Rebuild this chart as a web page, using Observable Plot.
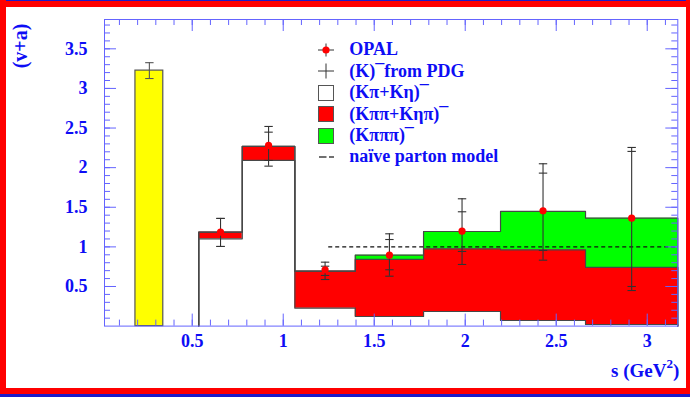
<!DOCTYPE html>
<html>
<head>
<meta charset="utf-8">
<script src="https://cdn.jsdelivr.net/npm/d3@7"></script>
<script src="https://cdn.jsdelivr.net/npm/@observablehq/plot@0.6"></script>
<style>
  html, body { margin: 0; padding: 0; background: #fff; }
  #wrap {
    position: relative; width: 690px; height: 397px; overflow: hidden; background: #fff;
    font-family: "Liberation Serif", "Times New Roman", serif; font-weight: bold; color: #0d0df5;
  }
  #wrap > svg { position: absolute; left: 0; top: 0; }
  .stripe { position: absolute; z-index: 5; }
  #ylabel {
    position: absolute; left: 20px; top: 46px; font-size: 20px; line-height: 20px; white-space: nowrap;
    transform: translate(-50%, -50%) rotate(-90deg);
  }
  #xlabel { position: absolute; left: 611px; top: 361px; font-size: 19px; line-height: 19px; white-space: nowrap; }
  #xlabel span.sup { font-size: 13px; position: relative; top: -9px; }
  #legend { position: absolute; left: 318px; top: 39.3px; font-size: 18px; }
  #legend .row { display: flex; align-items: center; height: 21.45px; line-height: 21.45px; white-space: nowrap; }
  #legend svg { width: 16px; height: 16px; flex: none; margin-right: 15.3px; overflow: visible; }
</style>
</head>
<body>
<div id="wrap"></div>
<script>
// Single K bin (PDG)
const kBinEdges = [0.188, 0.341];
const kValue = 3.225;
const kErr = 0.10;

// Bin edges in s for the hadronic spectral function
const binEdges = [0.536, 0.775, 1.064, 1.396, 1.771, 2.194, 2.661, 3.168];

// Stacked channel contributions per bin
const kpiKeta     = [1.102, 2.091, 0.226, 0.121, 0.184, 0.071, 0.020];
const kpipiKetapi = [0.084, 0.177, 0.467, 0.720, 0.792, 0.892, 0.720];
const kpipipi     = [0.000, 0.000, 0.000, 0.054, 0.218, 0.484, 0.622];

// OPAL measurement with two error levels
const opalValue    = [1.186, 2.280, 0.711, 0.895, 1.198, 1.456, 1.362];
const opalErrUp    = [0.173, 0.240, 0.096, 0.270, 0.409, 0.593, 0.893];
const opalErrDown  = [0.181, 0.261, 0.123, 0.265, 0.420, 0.624, 0.913];
const opalStatUp   = [0.173, 0.168, 0.045, 0.198, 0.245, 0.475, 0.843];
const opalStatDown = [0.181, 0.189, 0.072, 0.184, 0.256, 0.501, 0.862];

// Naive parton model level
const partonLevel = 1;
const partonFrom = 1.25;

// Axes
const xDomain = [0.018, 3.168];
const yDomain = [0, 3.87];
const xMajor = [0.5, 1, 1.5, 2, 2.5, 3];
const yMajor = [0.5, 1, 1.5, 2, 2.5, 3, 3.5];
const xMinor = d3.range(1, 32).map(i => i / 10);
const yMinor = d3.range(1, 39).map(i => i / 10);

const legendLabels = ["OPAL", "(K)\u00AFfrom PDG", "(K\u03C0+K\u03B7)\u00AF", "(K\u03C0\u03C0+K\u03B7\u03C0)\u00AF", "(K\u03C0\u03C0\u03C0)\u00AF", "na\u00EFve parton model"];

const colors = { k: "#ffff00", kpipi: "#ff0000", kpipipi: "#00ff00", outline: "#474747", err: "#333333", axis: "#6464ff", text: "#0d0df5" };

// layout
const W = 690, H = 397;
const mL = 104, mR = 12.7, mT = 19, mB = 397 - 325.6;
const FW = W - mL - mR, FH = H - mT - mB;

const nb = kpiKeta.length;
const bins = d3.range(nb).map(i => {
  const w = kpiKeta[i], wr = w + kpipiKetapi[i], tot = wr + kpipipi[i];
  return { x1: binEdges[i], x2: binEdges[i + 1], xc: (binEdges[i] + binEdges[i + 1]) / 2, w, wr, tot };
});
const last = bins[nb - 1];

function stepPts(acc) {
  const pts = [{ x: binEdges[0], y: 0 }];
  bins.forEach(b => pts.push({ x: b.x1, y: acc(b) }));
  pts.push({ x: last.x2, y: acc(last) }, { x: last.x2, y: 0 });
  return pts;
}
function bandPts(lo, hi) {
  const pts = bins.map(b => ({ x: b.x1, y1: lo(b), y2: hi(b) }));
  pts.push({ x: last.x2, y1: lo(last), y2: hi(last) });
  return pts;
}

const errData = bins.map((b, i) => ({
  x: b.xc, v: opalValue[i],
  lo: opalValue[i] - opalErrDown[i], hi: opalValue[i] + opalErrUp[i],
  ilo: opalValue[i] - opalStatDown[i], ihi: opalValue[i] + opalStatUp[i]
}));
const caps = errData.flatMap(d => [d.lo, d.hi, d.ilo, d.ihi].map(y => ({ x: d.x, y })));
const kBar = [{ x1: kBinEdges[0], x2: kBinEdges[1], y1: 0, y2: kValue, xc: (kBinEdges[0] + kBinEdges[1]) / 2, lo: kValue - kErr, hi: kValue + kErr }];
const kCaps = [{ x: kBar[0].xc, y: kBar[0].lo }, { x: kBar[0].xc, y: kBar[0].hi }];

// short horizontal bar used as error-bar cap
const capSymbol = { draw(ctx) { ctx.moveTo(-4.2, 0); ctx.lineTo(4.2, 0); } };

const chart = Plot.plot({
  width: W, height: H,
  marginLeft: mL, marginRight: mR, marginTop: mT, marginBottom: mB,
  x: { domain: xDomain },
  y: { domain: yDomain },
  style: { fontFamily: '"Liberation Serif", "Times New Roman", serif', fontWeight: "bold", fontSize: "18px", color: colors.text, background: "transparent", overflow: "visible" },
  marks: [
    // stacked fills
    Plot.areaY(bandPts(b => b.w, b => b.wr), { x: "x", y1: "y1", y2: "y2", curve: "step-after", fill: colors.kpipi }),
    Plot.areaY(bandPts(b => b.wr, b => b.tot), { x: "x", y1: "y1", y2: "y2", curve: "step-after", fill: colors.kpipipi }),
    Plot.rect(kBar, { x1: "x1", x2: "x2", y1: "y1", y2: "y2", fill: colors.k, stroke: "#555", strokeWidth: 1.2 }),
    // histogram outlines
    Plot.line(stepPts(b => b.w), { x: "x", y: "y", curve: "step-after", stroke: colors.outline, strokeWidth: 1.2 }),
    Plot.line(stepPts(b => b.wr), { x: "x", y: "y", curve: "step-after", stroke: colors.outline, strokeWidth: 1.2 }),
    Plot.line(stepPts(b => b.tot), { x: "x", y: "y", curve: "step-after", stroke: colors.outline, strokeWidth: 1.2 }),
    // naive parton model
    Plot.ruleY([{ y: partonLevel, x1: partonFrom, x2: xDomain[1] }], { y: "y", x1: "x1", x2: "x2", stroke: "#111", strokeWidth: 1.3, strokeDasharray: "4,3" }),
    // error bars
    Plot.ruleX(kBar, { x: "xc", y1: "lo", y2: "hi", stroke: "#555", strokeWidth: 1.1 }),
    Plot.dot(kCaps, { x: "x", y: "y", symbol: capSymbol, stroke: "#555", fill: "none", strokeWidth: 1.1 }),
    Plot.ruleX(errData, { x: "x", y1: "lo", y2: "hi", stroke: colors.err, strokeWidth: 1.1 }),
    Plot.dot(caps, { x: "x", y: "y", symbol: capSymbol, stroke: colors.err, fill: "none", strokeWidth: 1.1 }),
    Plot.dot(errData, { x: "x", y: "v", r: 3.6, fill: "#ff0000" }),
    // ticks on all four sides, pointing inward
    Plot.tickX(xMinor, { x: d => d, insetTop: FH - 6, stroke: colors.axis }),
    Plot.tickX(xMinor, { x: d => d, insetBottom: FH - 6, stroke: colors.axis }),
    Plot.tickX(xMajor, { x: d => d, insetTop: FH - 12, stroke: colors.axis }),
    Plot.tickX(xMajor, { x: d => d, insetBottom: FH - 12, stroke: colors.axis }),
    Plot.tickY(yMinor, { y: d => d, insetRight: FW - 6, stroke: colors.axis }),
    Plot.tickY(yMinor, { y: d => d, insetLeft: FW - 6, stroke: colors.axis }),
    Plot.tickY(yMajor, { y: d => d, insetRight: FW - 12, stroke: colors.axis }),
    Plot.tickY(yMajor, { y: d => d, insetLeft: FW - 12, stroke: colors.axis }),
    Plot.frame({ stroke: colors.axis }),
    Plot.axisX(xMajor, { tickSize: 0, tickPadding: 8, label: null, tickFormat: d => String(d), fontSize: 18, fontWeight: "bold" }),
    Plot.axisY(yMajor, { tickSize: 0, tickPadding: 17, label: null, tickFormat: d => String(d), fontSize: 18, fontWeight: "bold" })
  ]
});

const wrap = d3.select("#wrap");
wrap.node().appendChild(chart);

// axis titles
wrap.append("div").attr("id", "ylabel").text("(v+a)");
const xl = wrap.append("div").attr("id", "xlabel");
xl.append("span").text("s (GeV");
xl.append("span").attr("class", "sup").text("2");
xl.append("span").text(")");

// legend
const legendMarkers = [
  g => { g.append("line").attr("x1", 0).attr("x2", 16).attr("y1", 8).attr("y2", 8).attr("stroke", colors.err);
         g.append("line").attr("x1", 8).attr("x2", 8).attr("y1", 1.5).attr("y2", 14.5).attr("stroke", colors.err);
         g.append("circle").attr("cx", 8).attr("cy", 8).attr("r", 3.6).attr("fill", "#ff0000"); },
  g => { g.append("line").attr("x1", 0).attr("x2", 16).attr("y1", 8).attr("y2", 8).attr("stroke", colors.err);
         g.append("line").attr("x1", 8).attr("x2", 8).attr("y1", 0.5).attr("y2", 15.5).attr("stroke", colors.err); },
  g => g.append("rect").attr("x", 0.5).attr("y", 0.5).attr("width", 15).attr("height", 15).attr("fill", "#fff").attr("stroke", "#555"),
  g => g.append("rect").attr("x", 0.5).attr("y", 0.5).attr("width", 15).attr("height", 15).attr("fill", colors.kpipi).attr("stroke", "#555"),
  g => g.append("rect").attr("x", 0.5).attr("y", 0.5).attr("width", 15).attr("height", 15).attr("fill", colors.kpipipi).attr("stroke", "#555"),
  g => { g.append("line").attr("x1", 1).attr("x2", 8.5).attr("y1", 8).attr("y2", 8).attr("stroke", "#222").attr("stroke-width", 1.3);
         g.append("line").attr("x1", 11).attr("x2", 16).attr("y1", 8).attr("y2", 8).attr("stroke", "#222").attr("stroke-width", 1.3); }
];
const legend = wrap.append("div").attr("id", "legend");
legendLabels.forEach((label, i) => {
  const row = legend.append("div").attr("class", "row");
  const svg = row.append("svg").attr("viewBox", "0 0 16 16");
  legendMarkers[i](svg);
  row.append("span").text(label);
});

// canvas border
const stripes = [
  { l: 0, t: 0, w: 690, h: 1.2, c: "#1c1cc8" },
  { l: 0, t: 1.2, w: 690, h: 5.6, c: "#ff0000" },
  { l: 0, t: 0, w: 6, h: 397, c: "#ff0000" },
  { l: 686, t: 0, w: 4, h: 397, c: "#ff0000" },
  { l: 0, t: 388.3, w: 690, h: 5.4, c: "#ff0000" },
  { l: 0, t: 393.7, w: 690, h: 3.3, c: "#1c1cc8" }
];
stripes.forEach(s => wrap.append("div").attr("class", "stripe")
  .style("left", s.l + "px").style("top", s.t + "px").style("width", s.w + "px").style("height", s.h + "px").style("background", s.c));
</script>
</body>
</html>
